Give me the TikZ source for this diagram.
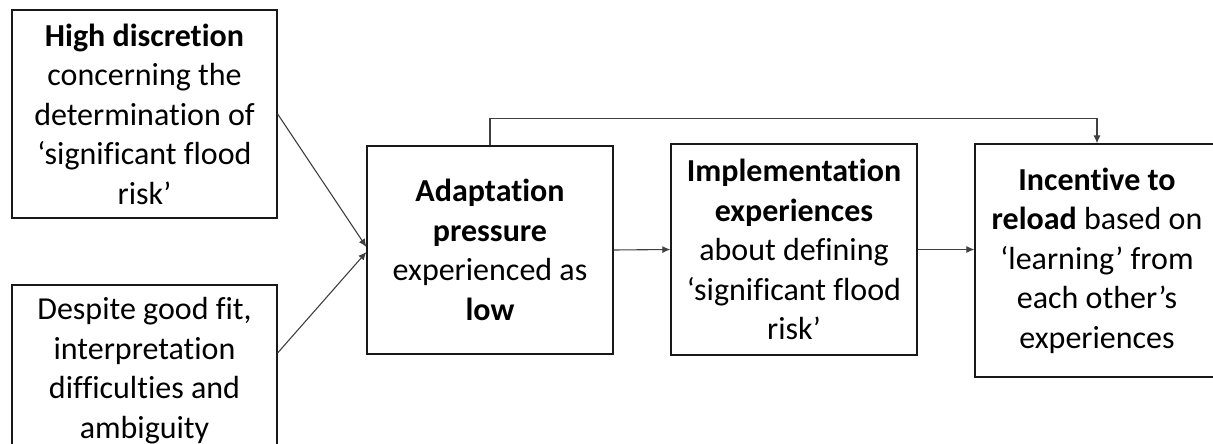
\documentclass[tikz,border=0pt]{standalone}
\usepackage{fontspec}
\setmainfont{Carlito}[Ligatures={NoCommon}]
\usetikzlibrary{arrows.meta}
\tikzset{
  box/.style={draw=black!90, line width=1.2pt, inner sep=0pt, align=center,
    font=\fontsize{32}{39.5}\selectfont},
  conn/.style={draw=black!75, line width=1.1pt, -{Latex[length=8pt,width=7pt]}}
}
\begin{document}
\begin{tikzpicture}[x=1pt,y=-1pt]
\useasboundingbox (0,0) rectangle (1213,444);
\begin{scope}
\clip (0,0) rectangle (1213,444);
\node[box, minimum width=265pt, minimum height=208pt] (A) at (144.5,114)
  {\textbf{High discretion}\\concerning the\\determination of\\‘significant flood\\risk’};
\node[box, minimum width=265pt, minimum height=166pt, text depth=0pt] (B) at (144.5,368)
  {Despite good fit,\\interpretation\\difficulties and\\ambiguity};
\node[box, minimum width=246pt, minimum height=208pt] (C) at (490,250)
  {\textbf{Adaptation}\\\textbf{pressure}\\experienced as\\\textbf{low}};
\node[box, minimum width=246pt, minimum height=211pt] (D) at (794,249.5)
  {\textbf{Implementation}\\\textbf{experiences}\\about defining\\‘significant flood\\risk’};
\node[box, minimum width=244pt, minimum height=233pt] (E) at (1097,260.5)
  {\textbf{Incentive to}\\\textbf{reload} based on\\‘learning’ from\\each other’s\\experiences};
\draw[conn] (A.east) -- ([yshift=3pt]C.west);
\draw[conn] ([yshift=15pt]B.east) -- ([yshift=-2pt]C.west);
\draw[conn] (C.east) -- (D.west);
\draw[conn] (D.east) -- (D.east -| E.west);
\draw[conn] (C.north) -- ([yshift=27pt]C.north) -| (E.north);
\end{scope}
\end{tikzpicture}
\end{document}
